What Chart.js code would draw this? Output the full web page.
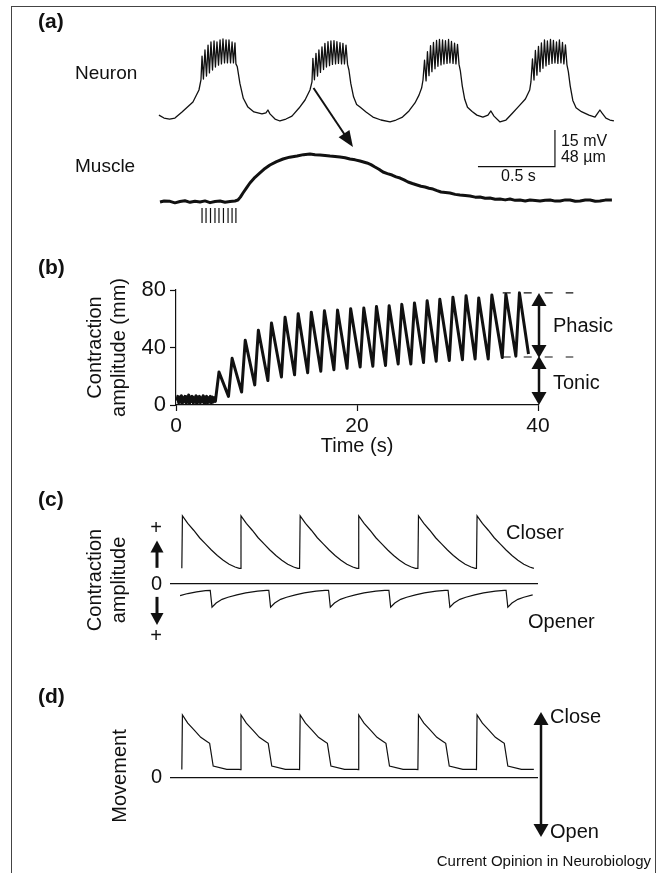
<!DOCTYPE html>
<html lang="en">
<head>
<meta charset="utf-8">
<title>Neuron, muscle and valve movement</title>
<script src="https://cdn.jsdelivr.net/npm/chart.js@4.4.1/dist/chart.umd.min.js"></script>
<style>
  html, body { margin: 0; padding: 0; background: #fff; }
  #figure { position: relative; width: 664px; height: 873px; overflow: hidden; background: #fff; }
  #frame { position: absolute; left: 11px; top: 6px; width: 645px; height: 900px;
           border: 1px solid #444; box-sizing: border-box; }
  #figure canvas { position: absolute; left: 0; }
</style>
</head>
<body>
<div id="figure">
  <div id="frame"></div>
  <canvas id="panelA" width="664" height="240" style="top:0px"></canvas>
  <canvas id="panelB" width="664" height="218" style="top:240px"></canvas>
  <canvas id="panelC" width="664" height="205" style="top:470px"></canvas>
  <canvas id="panelD" width="664" height="198" style="top:675px"></canvas>
</div>
<script>
// ---- panel (a): neuron voltage (ms, mV above trough) ----
const neuronCycle1 = [
  [6,2.0],[39,0.8],[75,0.4],[110,0.8],[156,3.3],[227,7.4],[266,12.3],[279,16.4],
  [286,26.2],[295,16.8],[305,28.7],[315,18.0],[325,30.7],[334,19.3],[344,32.0],[354,20.5],
  [364,32.4],[373,21.7],[383,32.0],[393,22.5],[403,32.8],[412,23.0],[422,33.2],[432,23.4],
  [442,32.8],[451,23.4],[461,32.8],[471,23.4],[481,32.0],[490,23.4],[500,31.6],[506,23.0],
  [515,21.8],[532,15.0],[554,8.9],[584,5.3],[623,3.3],[675,2.5],[701,2.9],[714,4.1],[727,2.5],
  [760,0.4],[792,-0.4],[831,0.4],[870,1.6],[916,4.9],[955,8.2],[987,12.3],[1000,15.6]
];
const neuronCycle2 = [
  [1006,25.3],[1016,16.5],[1026,27.3],[1036,18.0],[1045,28.7],[1055,19.5],[1065,30.0],[1075,20.7],
  [1084,31.4],[1094,21.7],[1104,32.1],[1114,22.3],[1123,32.4],[1133,22.8],[1143,32.5],[1153,23.0],
  [1162,32.1],[1172,23.2],[1182,31.7],[1192,23.0],[1201,31.4],[1211,23.0],[1221,30.7],[1231,22.8],
  [1240,20.5],[1252,15.0],[1270,9.5],[1290,6.4],[1312,5.3],[1351,3.3],[1396,1.2],[1448,0],
  [1507,-0.8],[1546,0],[1588,1.2],[1630,3.7],[1669,7.0],[1695,10.2],[1712,13.1],[1721,16.4]
];
const neuronCycle3 = [
  [1731,24.5],[1741,16.0],[1750,28.0],[1760,18.2],[1770,30.5],[1779,19.8],[1789,31.8],[1799,21.0],
  [1809,32.6],[1818,22.0],[1828,33.0],[1838,22.6],[1848,32.8],[1857,23.0],[1867,32.5],[1877,23.2],
  [1887,33.0],[1896,23.4],[1906,32.2],[1916,23.2],[1926,31.5],[1935,23.0],[1945,31.0],[1955,22.8],
  [1964,20.0],[1976,14.0],[1992,8.5],[2010,5.2],[2040,3.5],[2071,2.0],[2110,1.2],[2143,2.0],
  [2162,3.7],[2182,1.6],[2221,-0.8],[2260,0],[2303,2.9],[2344,5.7],[2386,8.6],[2414,12.3],[2422,15.6]
];
const neuronCycle4 = [
  [2432,25.0],[2442,16.4],[2451,28.5],[2461,18.4],[2471,30.2],[2481,19.8],[2490,31.6],[2500,21.2],
  [2510,32.8],[2520,22.2],[2529,32.4],[2539,22.8],[2549,33.0],[2559,23.2],[2568,32.6],[2578,23.4],
  [2588,32.0],[2597,23.2],[2607,32.8],[2617,23.4],[2627,31.8],[2636,23.0],[2646,30.8],[2656,22.6],
  [2665,19.8],[2677,14.0],[2694,8.0],[2715,5.0],[2750,3.4],[2799,2.0],[2838,1.2],[2857,2.9],
  [2870,4.1],[2883,2.9],[2909,0.8],[2935,0],[2961,-0.4]
];
// muscle length change (ms, µm)
const muscleTrace = [
  [13,-0.4],[40,1.0],[78,0.5],[110,-1.5],[143,0.2],[175,1.2],[208,-0.8],[240,0.6],[273,-0.4],
  [305,1.1],[338,-1.2],[370,0.3],[403,0.9],[435,-0.6],[468,0.4],[500,1.0],[519,2.2],[535,6],
  [552,11.4],[575,18],[597,24.5],[630,32],[662,37.6],[695,43.5],[727,48.0],[770,52.5],[812,55.9],
  [855,58.3],[903,59.8],[945,61.6],[987,62.4],[1020,61.5],[1052,61.1],[1085,60.5],[1117,59.8],
  [1150,59.3],[1182,58.5],[1215,57.5],[1247,55.9],[1280,54.8],[1312,53.3],[1357,50.7],[1383,48.5],
  [1409,45.4],[1435,42.5],[1461,38.9],[1490,36.8],[1520,34.9],[1546,32.5],[1572,31.0],[1598,28.5],
  [1624,25.8],[1652,23.8],[1682,21.9],[1708,20.3],[1734,19.2],[1760,17.6],[1786,16.6],[1812,14.5],
  [1838,12.7],[1867,12.1],[1896,11.4],[1930,9.6],[1961,8.8],[1995,8.2],[2026,7.5],[2060,6.0],
  [2091,6.2],[2125,4.6],[2156,4.8],[2190,3.3],[2221,3.5],[2255,2.4],[2286,3.5],[2320,1.8],
  [2351,2.2],[2385,1.0],[2416,2.2],[2450,1.5],[2481,0.9],[2515,2.0],[2546,2.2],[2580,0.8],
  [2611,0.9],[2645,2.4],[2676,2.2],[2710,0.6],[2741,0.9],[2775,2.3],[2806,2.2],[2840,0.7],
  [2870,0.9],[2905,2.1],[2948,2.2]
];
const stimulusMs = [286, 312, 341, 370, 396, 425, 455, 481, 506];

// ---- panel (b): contraction amplitude (s, mm) ----
const bBaseline = [
  [0.1,3],[0.2,6],[0.3,1.5],[0.4,5.5],[0.5,2],[0.6,6.5],[0.7,1],[0.8,5],[0.9,2.5],[1.0,6],
  [1.1,1.5],[1.2,4.5],[1.3,2],[1.4,7],[1.5,1],[1.6,5.5],[1.7,2.5],[1.8,6],[1.9,1.5],[2.0,5],
  [2.1,2],[2.2,6.5],[2.3,1],[2.4,5.5],[2.5,2],[2.6,6],[2.7,1.5],[2.8,5],[2.9,2.5],[3.0,6.5],
  [3.1,1],[3.2,5.5],[3.3,2],[3.4,6],[3.5,1.5],[3.6,5],[3.7,2],[3.8,6],[3.9,1.5],[4.0,5.5],
  [4.1,2],[4.2,5],[4.35,2.5]
];
const bPeakTimes = [4.75, 6.2, 7.65, 9.1, 10.55, 12.05, 13.5, 14.95, 16.4, 17.85, 19.3, 20.75,
  22.15, 23.55, 24.95, 26.35, 27.75, 29.15, 30.6, 32.05, 33.45, 34.9, 36.45, 37.95];
const bPeakValues = [23, 32.5, 45, 52, 57, 61, 63.5, 64.5, 65.5, 66, 67, 67.5,
  68.5, 69, 70, 71, 72.5, 73.5, 75, 76, 74.5, 76.5, 77, 78];
const bTroughTimes = [5.8, 7.25, 8.7, 10.15, 11.65, 13.1, 14.55, 16.0, 17.45, 18.9, 20.35, 21.75,
  23.15, 24.55, 25.95, 27.35, 28.75, 30.2, 31.65, 33.05, 34.5, 36.05, 37.55, 38.95];
const bTroughValues = [6, 9, 14, 17, 19.5, 21, 22.5, 23.5, 24.5, 25.5, 26.5, 27,
  27.5, 28.5, 28.5, 29.5, 30.5, 31, 31.5, 32, 32, 33, 34, 35.5];
const bPhasicTop = 78, bTonicTop = 33.4;

// ---- panels (c) and (d): schematic cycles (time in cycle periods) ----
const cycleOnsets = [0, 0.99, 1.99, 2.98, 3.99, 4.98];
const closerPhase = [0, 0.01, 0.1, 0.2, 0.3, 0.4, 0.5, 0.6, 0.7, 0.8, 0.9, 0.97];
const closerLevel = [0.23, 1.0, 0.89, 0.79, 0.68, 0.59, 0.5, 0.42, 0.35, 0.29, 0.25, 0.23];
const openerDrops = [0.48, 1.47, 2.48, 3.5, 4.5, 5.48];
const openerLead = [[-0.03,-0.17],[0.1,-0.14],[0.25,-0.115],[0.4,-0.097]];
const openerPhase = [0, 0.03, 0.1, 0.2, 0.3, 0.45, 0.6, 0.8, 0.95];
const openerLevel = [-0.092, -0.34, -0.28, -0.225, -0.195, -0.16, -0.13, -0.105, -0.094];
const traceEnd = 5.97;
const cTickValues = [-0.77, 0, 0.82];
const cTickLabels = ['+', '0', '+'];
const movePhase = [0, 0.01, 0.1, 0.21, 0.32, 0.43, 0.47, 0.53, 0.76, 0.97];
const moveLevel = [0.13, 1.0, 0.87, 0.76, 0.645, 0.574, 0.548, 0.186, 0.133, 0.133];

const ink = '#111';
const fontFamily = '"Liberation Sans", Arial, Helvetica, sans-serif';
Chart.defaults.font.family = fontFamily;
Chart.defaults.color = ink;
Chart.defaults.animation = false;
Chart.defaults.plugins.legend.display = false;
Chart.defaults.plugins.tooltip.enabled = false;

const toXY = pairs => pairs.map(([x, y]) => ({ x, y }));

function label(ctx, text, x, y, size, opts = {}) {
  ctx.save();
  ctx.font = `${opts.bold ? 'bold ' : ''}${size}px ${fontFamily}`;
  ctx.fillStyle = ink;
  ctx.textAlign = opts.align || 'left';
  ctx.textBaseline = 'middle';
  ctx.fillText(text, x, y);
  ctx.restore();
}

function arrowHead(ctx, tipX, tipY, fromX, fromY, len, width) {
  const a = Math.atan2(tipY - fromY, tipX - fromX);
  const bx = tipX - len * Math.cos(a), by = tipY - len * Math.sin(a);
  const nx = -Math.sin(a) * width / 2, ny = Math.cos(a) * width / 2;
  ctx.beginPath();
  ctx.moveTo(tipX, tipY);
  ctx.lineTo(bx + nx, by + ny);
  ctx.lineTo(bx - nx, by - ny);
  ctx.closePath();
  ctx.fill();
}

// shaft from (x1,y1) to the head at (x2,y2); both=true puts a head on each end
function arrow(ctx, x1, y1, x2, y2, lineWidth, len, width, both) {
  const a = Math.atan2(y2 - y1, x2 - x1);
  const c = Math.cos(a), s = Math.sin(a);
  ctx.save();
  ctx.strokeStyle = ink;
  ctx.fillStyle = ink;
  ctx.lineWidth = lineWidth;
  ctx.beginPath();
  ctx.moveTo(both ? x1 + (len - 1) * c : x1, both ? y1 + (len - 1) * s : y1);
  ctx.lineTo(x2 - (len - 1) * c, y2 - (len - 1) * s);
  ctx.stroke();
  arrowHead(ctx, x2, y2, x1, y1, len, width);
  if (both) arrowHead(ctx, x1, y1, x2, y2, len, width);
  ctx.restore();
}

// ---------------- panel (a) ----------------
const panelAExtras = {
  id: 'panelAExtras',
  afterDraw(chart) {
    const { ctx, scales: { x, yNeuron, yMuscle } } = chart;
    label(ctx, '(a)', 38, 22, 21, { bold: true });
    label(ctx, 'Neuron', 75, 74, 19);
    label(ctx, 'Muscle', 75, 167, 19);
    // burst onset -> contraction
    arrow(ctx, x.getPixelForValue(1010), yNeuron.getPixelForValue(13.1),
          x.getPixelForValue(1266), yMuscle.getPixelForValue(71.6), 2, 16, 13, false);
    // scale bars: 0.5 s and 48 µm (same length as 15 mV)
    const xs = x.getPixelForValue(2078), xe = x.getPixelForValue(2578);
    const yb = yMuscle.getPixelForValue(45.8), yt = yMuscle.getPixelForValue(45.8 + 48);
    ctx.save();
    ctx.strokeStyle = ink;
    ctx.lineWidth = 1.2;
    ctx.beginPath();
    ctx.moveTo(xs, yb); ctx.lineTo(xe, yb); ctx.lineTo(xe, yt);
    ctx.stroke();
    ctx.restore();
    label(ctx, '15 mV', xe + 6, 142, 16);
    label(ctx, '48 \u00b5m', xe + 6, 158, 16);
    label(ctx, '0.5 s', (xs + xe) / 2 + 2, 177, 16, { align: 'center' });
  }
};

new Chart(document.getElementById('panelA'), {
  type: 'line',
  data: {
    datasets: [
      { label: 'Neuron', data: toXY([].concat(neuronCycle1, neuronCycle2, neuronCycle3, neuronCycle4)),
        yAxisID: 'yNeuron', borderColor: ink, borderWidth: 1.3, borderJoinStyle: 'round', pointRadius: 0 },
      { label: 'Muscle', data: toXY(muscleTrace), yAxisID: 'yMuscle',
        borderColor: ink, borderWidth: 3, borderJoinStyle: 'round', pointRadius: 0 },
      { type: 'scatter', label: 'Stimulus', data: stimulusMs.map(t => ({ x: t, y: -18 })), yAxisID: 'yMuscle',
        pointStyle: 'line', rotation: 90, pointRadius: 7.5, pointBorderColor: ink, pointBorderWidth: 1.2 }
    ]
  },
  options: {
    responsive: false,
    layout: { padding: { left: 158, right: 49, top: 30, bottom: 10 } },
    scales: {
      x: { type: 'linear', display: false, min: 0, max: 2968 },
      yNeuron: { type: 'linear', display: false, min: -45.08, max: 36.89 },
      yMuscle: { type: 'linear', display: false, min: -37, max: 224.7 }
    }
  },
  plugins: [panelAExtras]
});

// ---------------- panel (b) ----------------
const bTrace = bBaseline.slice();
bPeakTimes.forEach((t, i) => {
  bTrace.push([t, bPeakValues[i]], [bTroughTimes[i], bTroughValues[i]]);
});

const panelBExtras = {
  id: 'panelBExtras',
  afterDraw(chart) {
    const { ctx, scales: { x, y } } = chart;
    label(ctx, '(b)', 38, 28, 21, { bold: true });
    ctx.save();
    ctx.strokeStyle = ink;
    ctx.lineWidth = 1.2;
    ctx.setLineDash([8, 13]);
    [bPhasicTop, bTonicTop].forEach(v => {
      ctx.beginPath();
      ctx.moveTo(x.getPixelForValue(36.1), y.getPixelForValue(v));
      ctx.lineTo(x.getPixelForValue(43.9), y.getPixelForValue(v));
      ctx.stroke();
    });
    ctx.restore();
    const ax = x.getPixelForValue(40) + 1;
    arrow(ctx, ax, y.getPixelForValue(bPhasicTop), ax, y.getPixelForValue(bTonicTop) + 1, 2.5, 13, 15, true);
    arrow(ctx, ax, y.getPixelForValue(bTonicTop) - 1, ax, y.getPixelForValue(0), 2.5, 13, 15, true);
    label(ctx, 'Phasic', ax + 14, y.getPixelForValue(54.3), 20);
    label(ctx, 'Tonic', ax + 14, y.getPixelForValue(15.3), 20);
  }
};

const axisStyle = {
  grid: { drawOnChartArea: false, tickLength: 6, color: ink, tickColor: ink, tickWidth: 1.2 },
  border: { color: ink, width: 1.2 }
};

new Chart(document.getElementById('panelB'), {
  type: 'line',
  data: {
    datasets: [{ label: 'Contraction', data: toXY(bTrace), borderColor: ink, borderWidth: 3,
                 borderJoinStyle: 'round', pointRadius: 0 }]
  },
  options: {
    responsive: false,
    layout: { padding: { left: 83, right: 126, top: 50, bottom: 0 } },
    scales: {
      x: { type: 'linear', min: 0, max: 40, ...axisStyle,
           ticks: { stepSize: 20, font: { size: 21 }, padding: 3, color: ink },
           title: { display: true, text: 'Time (s)', font: { size: 20, lineHeight: 1.2 }, padding: 0, color: ink },
           afterFit: s => { s.height = 53; } },
      y: { type: 'linear', min: 0, max: 80, ...axisStyle,
           ticks: { stepSize: 40, font: { size: 22 }, padding: 4, color: ink },
           title: { display: true, text: ['Contraction', 'amplitude (mm)'],
                    font: { size: 20, lineHeight: 1.2 }, padding: 0, color: ink },
           afterFit: s => { s.width = 93; } }
    }
  },
  plugins: [panelBExtras]
});

// ---------------- panel (c) ----------------
const closerTrace = [];
cycleOnsets.forEach(t0 => closerPhase.forEach((p, i) => closerTrace.push([t0 + p, closerLevel[i]])));
const openerTrace = openerLead.slice();
openerDrops.forEach((t0, k) => {
  const next = k + 1 < openerDrops.length ? openerDrops[k + 1] : traceEnd;
  openerPhase.forEach((p, i) => { if (t0 + p < next) openerTrace.push([t0 + p, openerLevel[i]]); });
});

const zeroGrid = {
  drawTicks: false, tickLength: 0, lineWidth: 1.2,
  color: c => (c.tick && c.tick.value === 0 ? ink : 'rgba(0,0,0,0)')
};

const panelCExtras = {
  id: 'panelCExtras',
  afterDraw(chart) {
    const { ctx, chartArea, scales: { y } } = chart;
    label(ctx, '(c)', 38, 30, 21, { bold: true });
    const ax = chartArea.left - 13;
    arrow(ctx, ax, y.getPixelForValue(0.238), ax, y.getPixelForValue(0.638), 3, 12, 13, false);
    arrow(ctx, ax, y.getPixelForValue(-0.189), ax, y.getPixelForValue(-0.602), 3, 12, 13, false);
    label(ctx, 'Closer', 506, 63, 20);
    label(ctx, 'Opener', 528, 152, 20);
  }
};

new Chart(document.getElementById('panelC'), {
  type: 'line',
  data: {
    datasets: [
      { label: 'Closer', data: toXY(closerTrace), borderColor: ink, borderWidth: 1.2, pointRadius: 0 },
      { label: 'Opener', data: toXY(openerTrace), borderColor: ink, borderWidth: 1.2, pointRadius: 0 }
    ]
  },
  options: {
    responsive: false,
    layout: { padding: { left: 83, right: 126, top: 35, bottom: 10 } },
    scales: {
      x: { type: 'linear', display: false, min: -0.2, max: 6.02 },
      y: { type: 'linear', min: -1.043, max: 1.161,
           afterBuildTicks: s => { s.ticks = cTickValues.map(value => ({ value })); },
           ticks: { autoSkip: false, font: { size: 20 }, padding: 8, color: ink,
                    callback: (v, i) => cTickLabels[i] },
           grid: zeroGrid,
           border: { display: false },
           title: { display: true, text: ['Contraction', 'amplitude'],
                    font: { size: 20, lineHeight: 1.2 }, padding: 0, color: ink },
           afterFit: s => { s.width = 87; } }
    }
  },
  plugins: [panelCExtras]
});

// ---------------- panel (d) ----------------
const moveTrace = [];
cycleOnsets.forEach(t0 => movePhase.forEach((p, i) => moveTrace.push([t0 + p, moveLevel[i]])));

const panelDExtras = {
  id: 'panelDExtras',
  afterDraw(chart) {
    const { ctx, chartArea } = chart;
    label(ctx, '(d)', 38, 22, 21, { bold: true });
    const ax = chartArea.right + 3;
    arrow(ctx, ax, 37, ax, 162, 2.5, 13, 15, true);
    label(ctx, 'Close', ax + 9, 42, 20);
    label(ctx, 'Open', ax + 9, 157, 20);
    label(ctx, 'Current Opinion in Neurobiology', 651, 187, 15, { align: 'right' });
  }
};

new Chart(document.getElementById('panelD'), {
  type: 'line',
  data: {
    datasets: [{ label: 'Movement', data: toXY(moveTrace), borderColor: ink, borderWidth: 1.2, pointRadius: 0 }]
  },
  options: {
    responsive: false,
    layout: { padding: { left: 83, right: 126, top: 31, bottom: 27 } },
    scales: {
      x: { type: 'linear', display: false, min: -0.2, max: 6.02 },
      y: { type: 'linear', min: -1.089, max: 1.144,
           afterBuildTicks: s => { s.ticks = [{ value: 0 }]; },
           ticks: { autoSkip: false, font: { size: 20 }, padding: 8, color: ink, callback: () => '0' },
           grid: zeroGrid,
           border: { display: false },
           title: { display: true, text: 'Movement', font: { size: 20, lineHeight: 1.2 },
                    padding: { top: 25, bottom: 0 }, color: ink },
           afterFit: s => { s.width = 87; } }
    }
  },
  plugins: [panelDExtras]
});
</script>
</body>
</html>
